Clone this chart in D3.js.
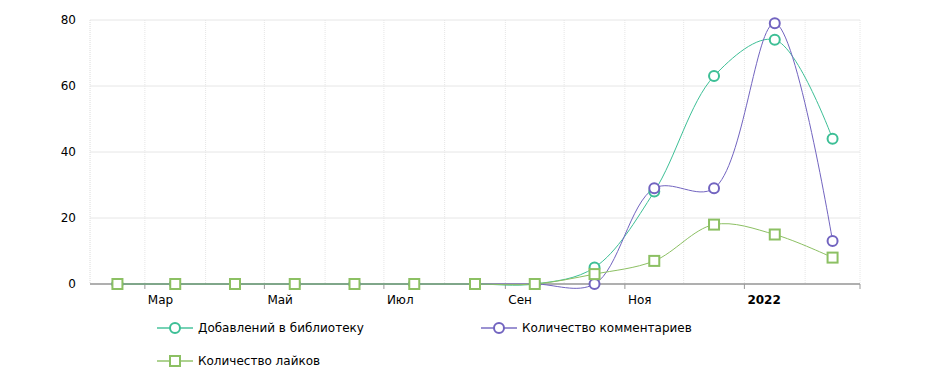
<!DOCTYPE html>
<html>
<head>
<meta charset="utf-8">
<script src="https://cdn.jsdelivr.net/npm/d3@7"></script>
<style>
  body { margin: 0; background: #fff; }
  svg { font-family: Tahoma, "DejaVu Sans", sans-serif; font-size: 12px; }
  .grid-y line { stroke: #e6e6e6; }
  .grid-x line { stroke: #e6e6e6; stroke-dasharray: 1,1; }
</style>
</head>
<body>
<script>

// monthly values, Feb 2021 .. Feb 2022
var months = ['2021-02','2021-03','2021-04','2021-05','2021-06','2021-07','2021-08',
              '2021-09','2021-10','2021-11','2021-12','2022-01','2022-02']
var library  = [0,0,0,0,0,0,0,0,5,28,63,74,44]
var comments = [0,0,0,0,0,0,0,0,0,29,29,79,13]
var likes    = [0,0,0,0,0,0,0,0,3,7,18,15,8]
var yTicks = [0,20,40,60,80]
var monthNames = ['Янв','Фев','Мар','Апр','Май','Июн','Июл','Авг','Сен','Окт','Ноя','Дек']

var series = [
  {name: 'Добавлений в библиотеку', values: library, color: '#3dbf96', shape: 'circle'},
  {name: 'Количество комментариев', values: comments, color: '#7264c0', shape: 'circle'},
  {name: 'Количество лайков', values: likes, color: '#8cc063', shape: 'square'}
]

var W = 944, H = 388
  , m = {top: 20, right: 84, bottom: 104, left: 90}
  , w = W - m.left - m.right, h = H - m.top - m.bottom

var parse = d3.timeParse('%Y-%m')
  , dates = months.map(parse)

var x = d3.scaleTime()
  .domain([dates[0], d3.timeMonth.offset(dates[dates.length - 1], 1)])
  .range([0, w])
var y = d3.scaleLinear().domain([0, 80]).range([h, 0])

// point sits at the middle of its month
function mid(d){ return (x(d) + x(d3.timeMonth.offset(d, 1))) / 2 }

var svg = d3.select('body').append('svg').attr('width', W).attr('height', H)
var g = svg.append('g').attr('transform', 'translate(' + m.left + ',' + m.top + ')')

g.append('g').attr('class', 'grid-y')
  .selectAll('line').data(yTicks).enter().append('line')
  .attr('x1', 0).attr('x2', w).attr('y1', y).attr('y2', y)

var monthTicks = x.ticks(d3.timeMonth.every(1))
g.append('g').attr('class', 'grid-x')
  .selectAll('line').data([dates[0]].concat(monthTicks)).enter().append('line')
  .attr('x1', x).attr('x2', x).attr('y1', 0).attr('y2', h)

// y labels
g.append('g').selectAll('text').data(yTicks).enter().append('text')
  .attr('x', -14).attr('y', y).attr('dy', '0.35em')
  .attr('text-anchor', 'end').attr('fill', '#000')
  .text(function(d){ return d })

// x axis
var xa = g.append('g').attr('transform', 'translate(0,' + h + ')')
xa.append('line').attr('x1', 0).attr('x2', w).attr('stroke', '#999').attr('stroke-width', 1.5)
var labelTicks = x.ticks(d3.timeMonth.every(2))
xa.selectAll('line.tick').data(labelTicks).enter().append('line')
  .attr('class', 'tick')
  .attr('x1', x).attr('x2', x).attr('y1', 0).attr('y2', 5).attr('stroke', '#999')
xa.selectAll('text').data(labelTicks.filter(function(d){ return x(d) < w - 20 })).enter().append('text')
  .attr('x', function(d){ return x(d) + 3 }).attr('y', 20)
  .attr('fill', '#000')
  .attr('font-weight', function(d){ return d.getMonth() === 0 ? 'bold' : null })
  .text(function(d){ return d.getMonth() === 0 ? d.getFullYear() : monthNames[d.getMonth()] })

var line = d3.line()
  .x(function(d, i){ return mid(dates[i]) })
  .y(function(d){ return y(d) })
  .curve(d3.curveCatmullRom.alpha(0.5))

function marker(sel, s){
  if(s.shape === 'circle'){
    sel.append('circle').attr('r', 5)
  } else {
    sel.append('rect').attr('x', -5).attr('y', -5).attr('width', 10).attr('height', 10)
  }
  sel.selectAll('circle,rect').attr('fill', '#fff').attr('stroke', s.color).attr('stroke-width', 2)
}

series.forEach(function(s){
  g.append('path').datum(s.values)
    .attr('d', line).attr('fill', 'none').attr('stroke', s.color).attr('stroke-width', 1)
})
series.forEach(function(s){
  g.append('g').selectAll('g').data(s.values).enter().append('g')
    .attr('transform', function(d, i){ return 'translate(' + mid(dates[i]) + ',' + y(d) + ')' })
    .each(function(){ marker(d3.select(this), s) })
})

// legend
var legendPos = [[157, 328], [481, 328], [157, 361]]
series.forEach(function(s, i){
  var lg = svg.append('g').attr('transform', 'translate(' + legendPos[i][0] + ',' + legendPos[i][1] + ')')
  lg.append('line').attr('x1', 0).attr('x2', 36).attr('stroke', s.color)
    .attr('stroke-width', 2).attr('opacity', 0.7)
  var mk = lg.append('g').attr('transform', 'translate(18,0)')
  marker(mk, s)
  lg.append('text').attr('x', 41).attr('dy', '0.35em').attr('fill', '#000').text(s.name)
})

</script>
</body>
</html>
